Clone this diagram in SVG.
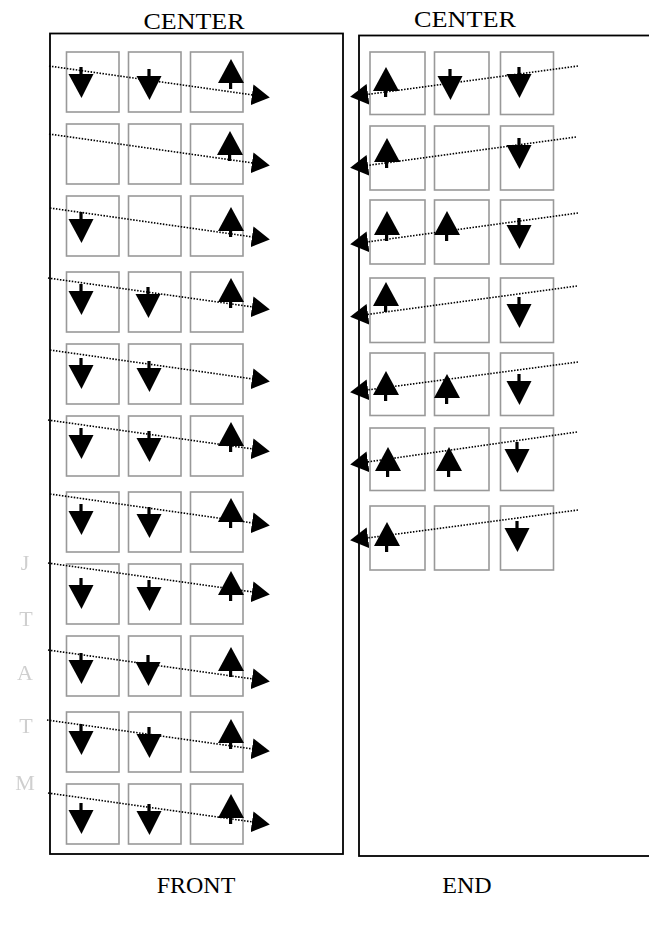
<svg xmlns="http://www.w3.org/2000/svg" xmlns:xlink="http://www.w3.org/1999/xlink" width="649" height="930" viewBox="0 0 649 930">
<style>
.frame{fill:none;stroke:#000;stroke-width:1.8}
.cell{fill:#fff;stroke:#999;stroke-width:1.6}
.dot{fill:none;stroke:#000;stroke-width:1.6;stroke-dasharray:1.5 1.5}
.title{font-family:"Liberation Serif","Times New Roman",serif;font-size:24px;fill:#000;text-anchor:middle}
.side{font-family:"Liberation Serif","Times New Roman",serif;font-size:22px;fill:#cfcfcf;text-anchor:middle}
</style>
<defs>
<g id="dn"><rect x="-1.6" y="0" width="3.2" height="9"/><polygon points="-12.5,7 12.5,7 0.5,31"/></g>
<g id="up"><polygon points="0,0 -13,24 13,24"/><rect x="-2" y="22" width="3.2" height="8"/></g>
<marker id="ah" markerUnits="userSpaceOnUse" viewBox="0 0 18 21" markerWidth="18" markerHeight="21" refX="1" refY="10.5" orient="auto"><path d="M0,0 L18,10.5 L0,21 z" fill="#000"/></marker>
<filter id="soft" x="-50%" y="-50%" width="200%" height="200%"><feGaussianBlur stdDeviation="0.7"/></filter>
</defs>
<rect width="649" height="930" fill="#fff"/>

<g id="titles">
<text class="title" x="194" y="29" textLength="101" lengthAdjust="spacingAndGlyphs">CENTER</text>
<text class="title" x="465" y="27" textLength="102" lengthAdjust="spacingAndGlyphs">CENTER</text>
<text class="title" x="196" y="893">FRONT</text>
<text class="title" x="467" y="893">END</text>
</g>

<g id="side-letters" filter="url(#soft)">
<text class="side" x="25" y="570">J</text>
<text class="side" x="26" y="626">T</text>
<text class="side" x="25" y="680">A</text>
<text class="side" x="26" y="733">T</text>
<text class="side" x="25" y="790">M</text>
</g>

<g id="front-frame"><rect class="frame" x="50" y="33.5" width="293" height="820.5"/></g>
<g id="end-frame"><rect class="frame" x="359" y="35.5" width="320" height="820.5"/></g>

<g id="front-cells">
<g id="f1"><rect class="cell" x="66.5" y="52" width="52.5" height="60"/><rect class="cell" x="128.5" y="52" width="52.5" height="60"/><rect class="cell" x="190.5" y="52" width="52.5" height="60"/>
<use xlink:href="#dn" href="#dn" transform="translate(81,67)"/><use xlink:href="#dn" href="#dn" transform="translate(149,69)"/><use xlink:href="#up" href="#up" transform="translate(231,59)"/></g>
<g id="f2"><rect class="cell" x="66.5" y="124" width="52.5" height="60"/><rect class="cell" x="128.5" y="124" width="52.5" height="60"/><rect class="cell" x="190.5" y="124" width="52.5" height="60"/>
<use xlink:href="#up" href="#up" transform="translate(230,131)"/></g>
<g id="f3"><rect class="cell" x="66.5" y="196" width="52.5" height="60"/><rect class="cell" x="128.5" y="196" width="52.5" height="60"/><rect class="cell" x="190.5" y="196" width="52.5" height="60"/>
<use xlink:href="#dn" href="#dn" transform="translate(81,212)"/><use xlink:href="#up" href="#up" transform="translate(231,207)"/></g>
<g id="f4"><rect class="cell" x="66.5" y="272" width="52.5" height="60"/><rect class="cell" x="128.5" y="272" width="52.5" height="60"/><rect class="cell" x="190.5" y="272" width="52.5" height="60"/>
<use xlink:href="#dn" href="#dn" transform="translate(81,284)"/><use xlink:href="#dn" href="#dn" transform="translate(148,287)"/><use xlink:href="#up" href="#up" transform="translate(231,278)"/></g>
<g id="f5"><rect class="cell" x="66.5" y="344" width="52.5" height="60"/><rect class="cell" x="128.5" y="344" width="52.5" height="60"/><rect class="cell" x="190.5" y="344" width="52.5" height="60"/>
<use xlink:href="#dn" href="#dn" transform="translate(81,358)"/><use xlink:href="#dn" href="#dn" transform="translate(149,361)"/></g>
<g id="f6"><rect class="cell" x="66.5" y="416" width="52.5" height="60"/><rect class="cell" x="128.5" y="416" width="52.5" height="60"/><rect class="cell" x="190.5" y="416" width="52.5" height="60"/>
<use xlink:href="#dn" href="#dn" transform="translate(81,428)"/><use xlink:href="#dn" href="#dn" transform="translate(149,431)"/><use xlink:href="#up" href="#up" transform="translate(231,422)"/></g>
<g id="f7"><rect class="cell" x="66.5" y="492" width="52.5" height="60"/><rect class="cell" x="128.5" y="492" width="52.5" height="60"/><rect class="cell" x="190.5" y="492" width="52.5" height="60"/>
<use xlink:href="#dn" href="#dn" transform="translate(81,504)"/><use xlink:href="#dn" href="#dn" transform="translate(149,507)"/><use xlink:href="#up" href="#up" transform="translate(231,498)"/></g>
<g id="f8"><rect class="cell" x="66.5" y="564" width="52.5" height="60"/><rect class="cell" x="128.5" y="564" width="52.5" height="60"/><rect class="cell" x="190.5" y="564" width="52.5" height="60"/>
<use xlink:href="#dn" href="#dn" transform="translate(81,578)"/><use xlink:href="#dn" href="#dn" transform="translate(149,580)"/><use xlink:href="#up" href="#up" transform="translate(231,571)"/></g>
<g id="f9"><rect class="cell" x="66.5" y="636" width="52.5" height="60"/><rect class="cell" x="128.5" y="636" width="52.5" height="60"/><rect class="cell" x="190.5" y="636" width="52.5" height="60"/>
<use xlink:href="#dn" href="#dn" transform="translate(81,653)"/><use xlink:href="#dn" href="#dn" transform="translate(148,655)"/><use xlink:href="#up" href="#up" transform="translate(231,647)"/></g>
<g id="f10"><rect class="cell" x="66.5" y="712" width="52.5" height="60"/><rect class="cell" x="128.5" y="712" width="52.5" height="60"/><rect class="cell" x="190.5" y="712" width="52.5" height="60"/>
<use xlink:href="#dn" href="#dn" transform="translate(81,724)"/><use xlink:href="#dn" href="#dn" transform="translate(149,727)"/><use xlink:href="#up" href="#up" transform="translate(231,719)"/></g>
<g id="f11"><rect class="cell" x="66.5" y="784" width="52.5" height="60"/><rect class="cell" x="128.5" y="784" width="52.5" height="60"/><rect class="cell" x="190.5" y="784" width="52.5" height="60"/>
<use xlink:href="#dn" href="#dn" transform="translate(81,803)"/><use xlink:href="#dn" href="#dn" transform="translate(149,804)"/><use xlink:href="#up" href="#up" transform="translate(231,794)"/></g>
</g>

<g id="end-cells">
<g id="e1"><rect class="cell" x="370" y="52" width="55" height="62.5"/><rect class="cell" x="434.5" y="52" width="54.5" height="62.5"/><rect class="cell" x="500.5" y="52" width="53" height="62.5"/>
<use xlink:href="#up" href="#up" transform="translate(386,67)"/><use xlink:href="#dn" href="#dn" transform="translate(450,69)"/><use xlink:href="#dn" href="#dn" transform="translate(519,67)"/></g>
<g id="e2"><rect class="cell" x="370" y="126" width="55" height="64"/><rect class="cell" x="434.5" y="126" width="54.5" height="64"/><rect class="cell" x="500.5" y="126" width="53" height="64"/>
<use xlink:href="#up" href="#up" transform="translate(387,138)"/><use xlink:href="#dn" href="#dn" transform="translate(519,138)"/></g>
<g id="e3"><rect class="cell" x="370" y="200" width="55" height="64"/><rect class="cell" x="434.5" y="200" width="54.5" height="64"/><rect class="cell" x="500.5" y="200" width="53" height="64"/>
<use xlink:href="#up" href="#up" transform="translate(387,211)"/><use xlink:href="#up" href="#up" transform="translate(447,211)"/><use xlink:href="#dn" href="#dn" transform="translate(519,218)"/></g>
<g id="e4"><rect class="cell" x="370" y="278" width="55" height="64.5"/><rect class="cell" x="434.5" y="278" width="54.5" height="64.5"/><rect class="cell" x="500.5" y="278" width="53" height="64.5"/>
<use xlink:href="#up" href="#up" transform="translate(386,282)"/><use xlink:href="#dn" href="#dn" transform="translate(519,297)"/></g>
<g id="e5"><rect class="cell" x="370" y="353" width="55" height="62.5"/><rect class="cell" x="434.5" y="353" width="54.5" height="62.5"/><rect class="cell" x="500.5" y="353" width="53" height="62.5"/>
<use xlink:href="#up" href="#up" transform="translate(386,371)"/><use xlink:href="#up" href="#up" transform="translate(447,374)"/><use xlink:href="#dn" href="#dn" transform="translate(519,374)"/></g>
<g id="e6"><rect class="cell" x="370" y="428" width="55" height="62.5"/><rect class="cell" x="434.5" y="428" width="54.5" height="62.5"/><rect class="cell" x="500.5" y="428" width="53" height="62.5"/>
<use xlink:href="#up" href="#up" transform="translate(388,447)"/><use xlink:href="#up" href="#up" transform="translate(449,447)"/><use xlink:href="#dn" href="#dn" transform="translate(517,442)"/></g>
<g id="e7"><rect class="cell" x="370" y="506" width="55" height="64"/><rect class="cell" x="434.5" y="506" width="54.5" height="64"/><rect class="cell" x="500.5" y="506" width="53" height="64"/>
<use xlink:href="#up" href="#up" transform="translate(387,522)"/><use xlink:href="#dn" href="#dn" transform="translate(517,521)"/></g>
</g>

<g id="connectors" marker-end="url(#ah)">
<path class="dot" marker-end="url(#ah)" d="M49,66 L253,95"/>
<path class="dot" marker-end="url(#ah)" d="M49,134 L253,163"/>
<path class="dot" marker-end="url(#ah)" d="M50,208 L253,237"/>
<path class="dot" marker-end="url(#ah)" d="M48,278 L253,307"/>
<path class="dot" marker-end="url(#ah)" d="M50,350 L253,379"/>
<path class="dot" marker-end="url(#ah)" d="M48,420 L253,449"/>
<path class="dot" marker-end="url(#ah)" d="M50,494 L253,523"/>
<path class="dot" marker-end="url(#ah)" d="M48,563 L253,592"/>
<path class="dot" marker-end="url(#ah)" d="M48,650 L253,679"/>
<path class="dot" marker-end="url(#ah)" d="M47,720 L253,749"/>
<path class="dot" marker-end="url(#ah)" d="M48,793 L253,822"/>
<path class="dot" marker-end="url(#ah)" d="M578,66 L367,94.5"/>
<path class="dot" marker-end="url(#ah)" d="M576,137 L367,165.5"/>
<path class="dot" marker-end="url(#ah)" d="M578,213 L367,242"/>
<path class="dot" marker-end="url(#ah)" d="M577,286 L367,314.5"/>
<path class="dot" marker-end="url(#ah)" d="M578,362 L367,390"/>
<path class="dot" marker-end="url(#ah)" d="M577,432 L367,462"/>
<path class="dot" marker-end="url(#ah)" d="M578,510 L367,538"/>
</g>
</svg>
